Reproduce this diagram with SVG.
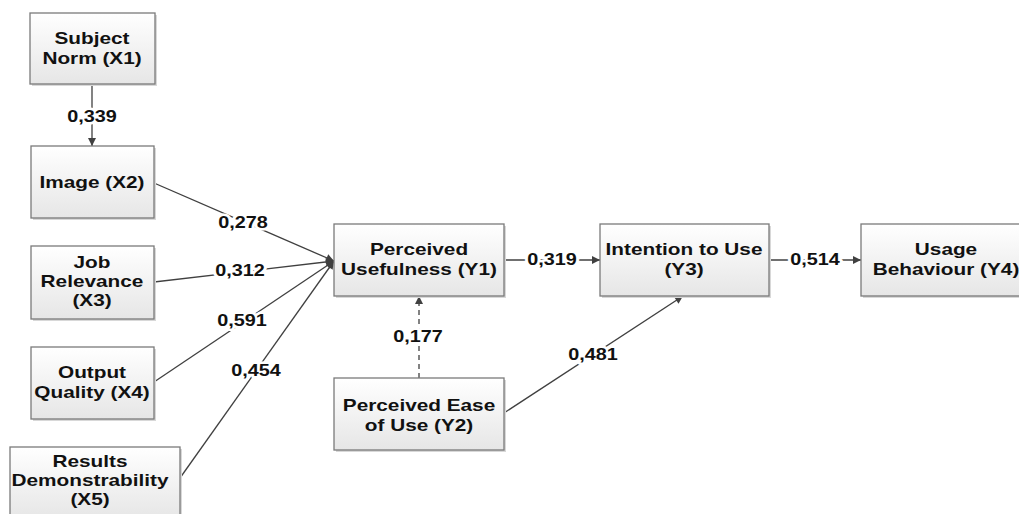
<svg xmlns="http://www.w3.org/2000/svg" width="1019" height="514" viewBox="0 0 1019 514">
<defs>
<linearGradient id="g" x1="0" y1="0" x2="0" y2="1">
<stop offset="0" stop-color="#ffffff"/>
<stop offset="1" stop-color="#e6e6e6"/>
</linearGradient>
<marker id="ah" viewBox="0 0 10 10" refX="10" refY="5" markerWidth="9" markerHeight="8" markerUnits="userSpaceOnUse" orient="auto">
<path d="M0,0 L10,5 L0,10 Z" fill="#404040"/>
</marker>
<style>
.box{fill:url(#g);stroke:#7a7a7a;stroke-width:1.3}
.sh{fill:#d8d8d8}
.t{font-family:"Liberation Sans",Arial,sans-serif;font-weight:bold;font-size:16.5px;fill:#111;text-anchor:middle}
.lb{font-family:"Liberation Sans",Arial,sans-serif;font-weight:bold;font-size:16px;fill:#111;text-anchor:middle;stroke:#fff;stroke-width:5;paint-order:stroke;stroke-linejoin:round}
.c{fill:none;stroke:#404040;stroke-width:1.3;marker-end:url(#ah)}
.d{stroke-dasharray:5,4}
</style>
</defs>
<rect width="1019" height="514" fill="#fff"/>
<g id="connectors">
<path class="c" d="M92,84 L92,146"/>
<path class="c" d="M154,183 L334,261"/>
<path class="c" d="M154,282 L334,261"/>
<path class="c" d="M154,382 L334,261"/>
<path class="c" d="M180,478 L334,261"/>
<path class="c" d="M504,260 L600,260"/>
<path class="c" d="M769,260 L861,260"/>
<path class="c d" d="M419,378 L419,296"/>
<path class="c" d="M504,413 L683,296"/>
<text class="lb" transform="translate(92 122) scale(1.24 1)">0,339</text>
<text class="lb" transform="translate(243 228) scale(1.24 1)">0,278</text>
<text class="lb" transform="translate(240 276) scale(1.24 1)">0,312</text>
<text class="lb" transform="translate(242 326) scale(1.24 1)">0,591</text>
<text class="lb" transform="translate(256 376) scale(1.24 1)">0,454</text>
<text class="lb" transform="translate(552 265) scale(1.24 1)">0,319</text>
<text class="lb" transform="translate(418 342) scale(1.24 1)">0,177</text>
<text class="lb" transform="translate(593 360) scale(1.24 1)">0,481</text>
<text class="lb" transform="translate(815 265) scale(1.24 1)">0,514</text>
</g>
<g id="X1">
<rect class="sh" x="32" y="15" width="125" height="71"/>
<rect class="box" x="30" y="13" width="125" height="71"/>
<text class="t" transform="translate(92 44) scale(1.26 1)">Subject</text>
<text class="t" transform="translate(92 64) scale(1.26 1)">Norm (X1)</text>
</g>
<g id="X2">
<rect class="sh" x="33" y="148" width="123" height="72"/>
<rect class="box" x="31" y="146" width="123" height="72"/>
<text class="t" transform="translate(92 188) scale(1.26 1)">Image (X2)</text>
</g>
<g id="X3">
<rect class="sh" x="33" y="248" width="123" height="73"/>
<rect class="box" x="31" y="246" width="123" height="73"/>
<text class="t" transform="translate(92 268) scale(1.26 1)">Job</text>
<text class="t" transform="translate(92 287) scale(1.26 1)">Relevance</text>
<text class="t" transform="translate(92 306) scale(1.26 1)">(X3)</text>
</g>
<g id="X4">
<rect class="sh" x="33" y="349" width="123" height="72"/>
<rect class="box" x="31" y="347" width="123" height="72"/>
<text class="t" transform="translate(92 378) scale(1.26 1)">Output</text>
<text class="t" transform="translate(92 398) scale(1.26 1)">Quality (X4)</text>
</g>
<g id="X5">
<rect class="sh" x="12" y="449" width="170" height="72"/>
<rect class="box" x="10" y="447" width="170" height="72"/>
<text class="t" transform="translate(90 467) scale(1.26 1)">Results</text>
<text class="t" transform="translate(90 486) scale(1.26 1)">Demonstrability</text>
<text class="t" transform="translate(90 505) scale(1.26 1)">(X5)</text>
</g>
<g id="Y1">
<rect class="sh" x="336" y="226" width="170" height="72"/>
<rect class="box" x="334" y="224" width="170" height="72"/>
<text class="t" transform="translate(419 255) scale(1.26 1)">Perceived</text>
<text class="t" transform="translate(419 275) scale(1.26 1)">Usefulness (Y1)</text>
</g>
<g id="Y2">
<rect class="sh" x="336" y="380" width="170" height="72"/>
<rect class="box" x="334" y="378" width="170" height="72"/>
<text class="t" transform="translate(419 411) scale(1.26 1)">Perceived Ease</text>
<text class="t" transform="translate(419 431) scale(1.26 1)">of Use (Y2)</text>
</g>
<g id="Y3">
<rect class="sh" x="602" y="226" width="169" height="72"/>
<rect class="box" x="600" y="224" width="169" height="72"/>
<text class="t" transform="translate(684 255) scale(1.26 1)">Intention to Use</text>
<text class="t" transform="translate(684 275) scale(1.26 1)">(Y3)</text>
</g>
<g id="Y4">
<rect class="sh" x="863" y="226" width="170" height="72"/>
<rect class="box" x="861" y="224" width="170" height="72"/>
<text class="t" transform="translate(946 255) scale(1.26 1)">Usage</text>
<text class="t" transform="translate(946 275) scale(1.26 1)">Behaviour (Y4)</text>
</g>
</svg>
